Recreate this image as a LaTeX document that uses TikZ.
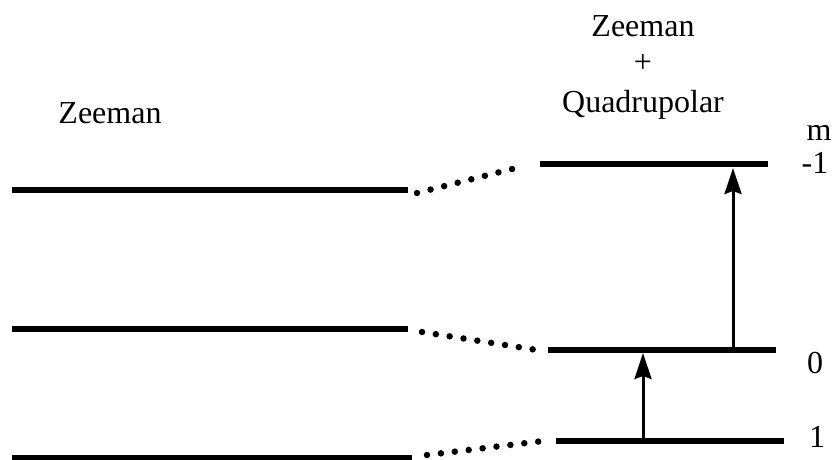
\documentclass[tikz,border=0pt]{standalone}
\usepackage{fontspec}
\setmainfont{Liberation Serif}
\usetikzlibrary{arrows.meta}
\begin{document}
\begin{tikzpicture}[x=1pt,y=-1pt,
  level/.style={line width=6.5pt},
  link/.style={line width=6.5pt,line cap=round,dash pattern=on 0pt off 14pt},
  trans/.style={line width=3pt,-{Stealth[length=26pt,width=17pt,inset=3pt]}},
  lbl/.style={font=\fontsize{32}{38}\selectfont,inner sep=0pt,anchor=base}]
\useasboundingbox (0,0) rectangle (833,460);
% unperturbed Zeeman levels
\coordinate (za1) at (12,190);  \coordinate (zb1) at (408,190);
\coordinate (za2) at (12,329);  \coordinate (zb2) at (408,329);
\coordinate (za3) at (12,458);  \coordinate (zb3) at (412,458);
% levels shifted by the quadrupolar term
\coordinate (qa1) at (540,164); \coordinate (qb1) at (768,164);
\coordinate (qa2) at (548,350); \coordinate (qb2) at (776,350);
\coordinate (qa3) at (556,441); \coordinate (qb3) at (784,441);
\draw[level] (za1) -- (zb1);
\draw[level] (za2) -- (zb2);
\draw[level] (za3) -- (zb3);
\draw[level] (qa1) -- (qb1);
\draw[level] (qa2) -- (qb2);
\draw[level] (qa3) -- (qb3);
% correlation lines
\coordinate (d1s) at (417,193); \coordinate (d1e) at (516,168);
\coordinate (d2s) at (422,332); \coordinate (d2e) at (537,350);
\coordinate (d3s) at (427,455); \coordinate (d3e) at (543,441);
\draw[link] (d1s) -- (d1e);
\draw[link] (d2s) -- (d2e);
\draw[link] (d3s) -- (d3e);
% transitions
\coordinate (t1a) at (643,444); \coordinate (t1b) at (643,353);
\coordinate (t2a) at (733,353); \coordinate (t2b) at (733,168);
\draw[trans] (t1a) -- (t1b);
\draw[trans] (t2a) -- (t2b);
% labels
\node[lbl] (zl) at (110,123) {Zeeman};
\node[lbl] (zr) at (643,37) {Zeeman};
\node[lbl] (pl) at (643,73) {+};
\node[lbl] (qr) at (643,112) {Quadrupolar};
\node[lbl] (m) at (819,140) {m};
\node[lbl] (m1) at (815,173) {-1};
\node[lbl] (m0) at (815,373) {0};
\node[lbl] (mp) at (817,447) {1};
\end{tikzpicture}
\end{document}
